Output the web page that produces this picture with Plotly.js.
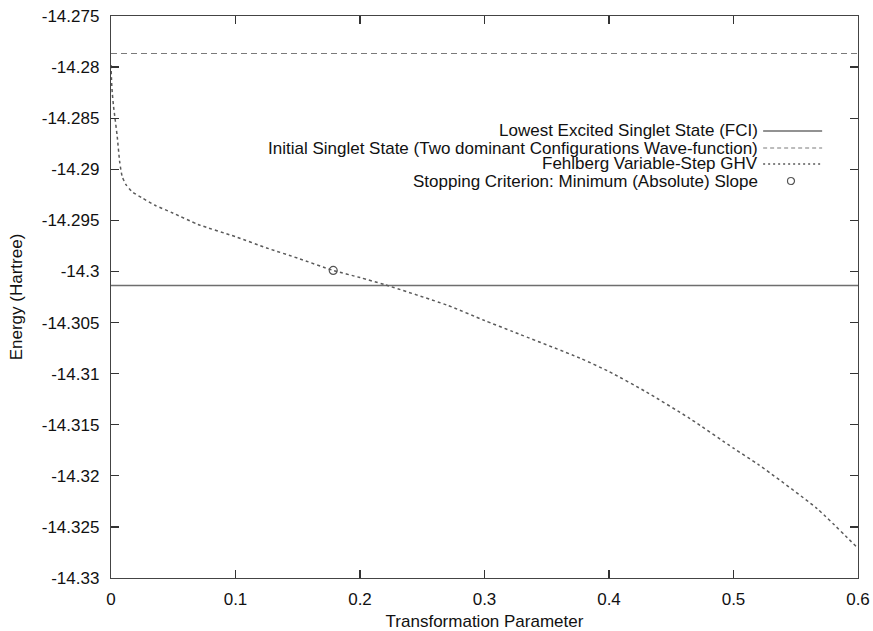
<!DOCTYPE html>
<html>
<head>
<meta charset="utf-8">
<script src="https://cdn.plot.ly/plotly-3.0.1.min.js"></script>
<style>html,body{margin:0;padding:0;background:#fff;}#chart{width:873px;height:631px;}</style>
</head>
<body>
<div id="chart"></div>
<script>
// Data
const ghvX = [0, 0.0005, 0.001, 0.002, 0.003, 0.005, 0.007, 0.009, 0.012, 0.017, 0.025, 0.035, 0.05, 0.07, 0.1, 0.125, 0.15, 0.1785, 0.2, 0.22, 0.27, 0.3, 0.323, 0.377, 0.4, 0.43, 0.465, 0.5, 0.52, 0.567, 0.6];
const ghvY = [-14.2798, -14.2815, -14.2825, -14.2838, -14.2848, -14.2868, -14.2893, -14.2907, -14.2915, -14.2922, -14.2928, -14.2935, -14.2943, -14.2954, -14.2966, -14.2977, -14.2987, -14.2999, -14.3006, -14.3013, -14.3033, -14.3048, -14.3059, -14.3085, -14.3098, -14.3118, -14.3144, -14.3173, -14.3189, -14.3232, -14.3271];
const lineX = [0, 0.6];
const fciEnergy = -14.30137;
const initialEnergy = -14.27867;
const stopX = [0.1785];
const stopY = [-14.2999];
const seriesNames = [
  "Lowest Excited Singlet State (FCI)",
  "Initial Singlet State (Two dominant Configurations Wave-function)",
  "Fehlberg Variable-Step GHV",
  "Stopping Criterion: Minimum (Absolute) Slope"
];
const xTicks = [0, 0.1, 0.2, 0.3, 0.4, 0.5, 0.6];
const xTickText = ["0", "0.1", "0.2", "0.3", "0.4", "0.5", "0.6"];
const yTicks = [-14.275, -14.28, -14.285, -14.29, -14.295, -14.3, -14.305, -14.31, -14.315, -14.32, -14.325, -14.33];
const yTickText = ["-14.275", "-14.28", "-14.285", "-14.29", "-14.295", "-14.3", "-14.305", "-14.31", "-14.315", "-14.32", "-14.325", "-14.33"];

const FONT = "Liberation Sans, Arial, sans-serif";
const FS = 17;
const C_SOLID = "#6e6e6e", C_DASH = "#7a7a7a", C_DOT = "#5a5a5a", C_MARK = "#555";

const traces = [
  {x: lineX, y: lineX.map(() => fciEnergy), mode: "lines", name: seriesNames[0],
   line: {color: C_SOLID, width: 1.5}},
  {x: lineX, y: lineX.map(() => initialEnergy), mode: "lines", name: seriesNames[1],
   line: {color: C_DASH, width: 1.2, dash: "6px,4px"}},
  {x: ghvX, y: ghvY, mode: "lines", name: seriesNames[2], line: {color: C_DOT, width: 1.5, dash: "3px,3px", shape: "spline", smoothing: 0.6}},
  {x: stopX, y: stopY, mode: "markers", name: seriesNames[3],
   marker: {symbol: "circle-open", size: 8, color: C_MARK, line: {width: 1.2, color: C_MARK}}}
];

// gnuplot-style key: text right-aligned, sample to its right
const rowsY = [0.7954, 0.7651, 0.7367, 0.7064];
const annotations = seriesNames.map((t, i) => ({
  xref: "paper", yref: "paper", x: 0.8688, y: rowsY[i], xanchor: "right", yanchor: "middle",
  text: t, showarrow: false, font: {family: FONT, size: FS, color: "#111"}
}));
const shapes = [
  {type: "line", xref: "paper", yref: "paper", x0: 0.873, x1: 0.952, y0: rowsY[0], y1: rowsY[0], line: {color: C_SOLID, width: 1.5}},
  {type: "line", xref: "paper", yref: "paper", x0: 0.873, x1: 0.952, y0: rowsY[1], y1: rowsY[1], line: {color: C_DASH, width: 1.2, dash: "4px,3px"}},
  {type: "line", xref: "paper", yref: "paper", x0: 0.873, x1: 0.952, y0: rowsY[2], y1: rowsY[2], line: {color: C_DOT, width: 1.5, dash: "2px,3px"}},
  {type: "circle", xref: "paper", yref: "paper", x0: 0.9103 - 0.0047, x1: 0.9103 + 0.0047, y0: rowsY[3] - 0.0062, y1: rowsY[3] + 0.0062, line: {color: C_MARK, width: 1.2}}
];

const axisCommon = {
  showgrid: false, zeroline: false, showline: true, linecolor: "#444", linewidth: 1.2,
  mirror: "allticks", ticks: "inside", ticklen: 8, tickwidth: 1.2, tickcolor: "#333",
  tickfont: {family: FONT, size: FS, color: "#111"}, tickmode: "array", fixedrange: true
};

const layout = {
  width: 873, height: 631,
  margin: {l: 111, r: 15, t: 16, b: 53},
  paper_bgcolor: "#fff", plot_bgcolor: "#fff",
  showlegend: false,
  font: {family: FONT, size: FS, color: "#111"},
  xaxis: Object.assign({}, axisCommon, {range: [0, 0.6], tickvals: xTicks, ticktext: xTickText,
    ticklabelstandoff: 5,
    title: {text: "Transformation Parameter", font: {family: FONT, size: FS, color: "#111"}, standoff: 9}}),
  yaxis: Object.assign({}, axisCommon, {range: [-14.33, -14.275], tickvals: yTicks, ticktext: yTickText,
    ticklabelstandoff: 7,
    title: {text: "Energy (Hartree)", font: {family: FONT, size: FS, color: "#111"}, standoff: 14}}),
  annotations: annotations,
  shapes: shapes
};

Plotly.newPlot("chart", traces, layout, {displayModeBar: false, staticPlot: true});
</script>
</body>
</html>
